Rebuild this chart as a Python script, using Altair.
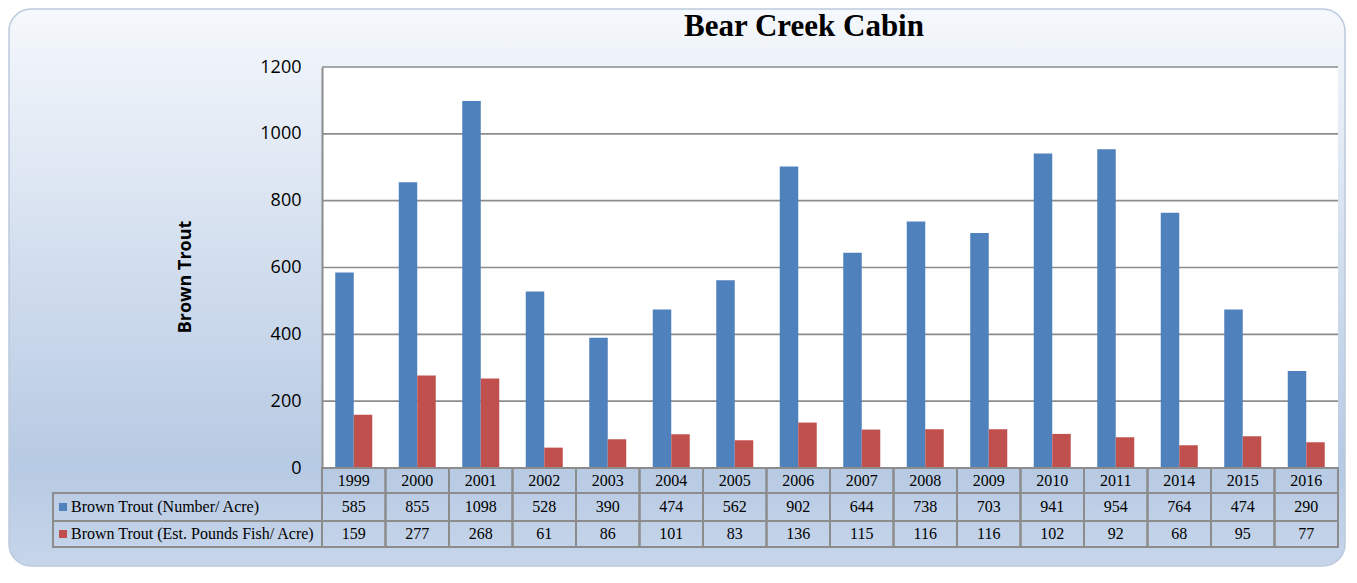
import altair as alt
import pandas as pd

years = ["1999", "2000", "2001", "2002", "2003", "2004", "2005", "2006",
         "2007", "2008", "2009", "2010", "2011", "2014", "2015", "2016"]
number_per_acre = [585, 855, 1098, 528, 390, 474, 562, 902, 644, 738, 703, 941, 954, 764, 474, 290]
pounds_per_acre = [159, 277, 268, 61, 86, 101, 83, 136, 115, 116, 116, 102, 92, 68, 95, 77]
series_names = ["Brown Trout (Number/ Acre)", "Brown Trout (Est. Pounds Fish/ Acre)"]
y_ticks = [0, 200, 400, 600, 800, 1000, 1200]
colors = ["#4F81BD", "#C0504D"]
chart_title = "Bear Creek Cabin"
y_title = "Brown Trout"

df = pd.DataFrame({
    "year": years * 2,
    "series": [series_names[0]] * len(years) + [series_names[1]] * len(years),
    "value": number_per_acre + pounds_per_acre,
})
yrs = pd.DataFrame({"year": years})
ticks_df = pd.DataFrame({"t": y_ticks[1:]})
one = pd.DataFrame({"k": [0]})

W, H = 1016, 401
GRID = "#8C8C8C"
SERIF = "Liberation Serif"
TFS = 16

yscale = alt.Scale(domain=[0, 1200], nice=False, zero=True)
xscale = alt.Scale(paddingInner=0, paddingOuter=0)
yaxis = alt.Axis(values=y_ticks, format="d", grid=False, ticks=False, tickSize=0, domain=True,
                 domainColor=GRID, domainWidth=2, labelFont="Open Sans",
                 labelFontSize=18, labelColor="#000000", labelPadding=21, title=None,
                 zindex=1)
xenc = alt.X("year:N", sort=years, scale=xscale, axis=None)

gradient = {
    "gradient": "linear", "x1": 0, "y1": 0, "x2": 0, "y2": 1,
    "stops": [
        {"offset": 0, "color": "#F5F8FC"},
        {"offset": 0.45, "color": "#D2DEEE"},
        {"offset": 0.82, "color": "#B7CAE3"},
        {"offset": 1, "color": "#C6D5EA"},
    ],
}

bg = alt.Chart(one).mark_rect(fill=gradient, stroke="#BCC9DC", strokeWidth=1.5,
                              cornerRadius=22).encode(
    x=alt.value(-313), x2=alt.value(W + 7), y=alt.value(-58), y2=alt.value(H + 98))

plot_bg = alt.Chart(one).mark_rect(fill="white").encode(
    x=alt.value(0), x2=alt.value(W), y=alt.value(0), y2=alt.value(H))

grid = alt.Chart(ticks_df).mark_rule(color=GRID, strokeWidth=1.6).encode(
    y=alt.Y("t:Q", scale=yscale, axis=yaxis), x=alt.value(0), x2=alt.value(W))

bars = alt.Chart(df).mark_bar().encode(
    x=xenc,
    xOffset=alt.XOffset("series:N", sort=series_names,
                        scale=alt.Scale(paddingInner=0, paddingOuter=0.716)),
    y=alt.Y("value:Q", scale=yscale, axis=yaxis),
    color=alt.Color("series:N", sort=series_names,
                    scale=alt.Scale(domain=series_names, range=colors), legend=None),
)

cells = alt.Chart(yrs).mark_rect(fill="white", fillOpacity=0, stroke=GRID, strokeWidth=2).encode(
    x=xenc, y=alt.value(H), y2=alt.value(H + 79))

label_box = alt.Chart(one).mark_rect(fill="white", fillOpacity=0, stroke=GRID, strokeWidth=2).encode(
    x=alt.value(-269), x2=alt.value(0), y=alt.value(H + 25), y2=alt.value(H + 79))

hlines = [
    alt.Chart(one).mark_rule(color=GRID, strokeWidth=2).encode(
        x=alt.value(-269), x2=alt.value(W), y=alt.value(H + yy))
    for yy in (25, 53)
]

year_text = alt.Chart(yrs).mark_text(font=SERIF, fontSize=TFS, baseline="middle",
                                     color="#000000").encode(
    x=xenc, y=alt.value(H + 13), text="year:N")

row_layers = []
row_centers = [H + 39, H + 66]
for i, name in enumerate(series_names):
    row_layers.append(
        alt.Chart(df).transform_filter(alt.datum.series == name).mark_text(
            font=SERIF, fontSize=TFS, baseline="middle", color="#000000").encode(
            x=xenc, y=alt.value(row_centers[i]), text="value:Q"))
    row_layers.append(
        alt.Chart(one).mark_square(size=64, opacity=1, color=colors[i]).encode(
            x=alt.value(-259), y=alt.value(row_centers[i])))
    row_layers.append(
        alt.Chart(one).mark_text(text=name, font=SERIF, fontSize=TFS, align="left",
                                 baseline="middle", color="#000000").encode(
            x=alt.value(-251), y=alt.value(row_centers[i])))

title_text = alt.Chart(one).mark_text(text=chart_title, font=SERIF, fontSize=31,
                                      fontWeight="bold", align="center",
                                      baseline="alphabetic", color="#000000").encode(
    x=alt.value(482), y=alt.value(-31))

ytitle_text = alt.Chart(one).mark_text(text=y_title, font="Open Sans", fontSize=18,
                                       fontWeight="bold", angle=270, align="center",
                                       baseline="middle", color="#000000").encode(
    x=alt.value(-136), y=alt.value(210))

chart = alt.layer(
    bg, plot_bg, grid, bars, cells, label_box, *hlines, year_text, *row_layers,
    title_text, ytitle_text,
).properties(
    width=W, height=H, autosize="none",
    padding={"left": 314, "top": 59, "right": 8, "bottom": 100},
).configure_view(stroke=None).configure(background="white")

chart.save("out.html", embed_options={"renderer": "svg", "actions": False})
